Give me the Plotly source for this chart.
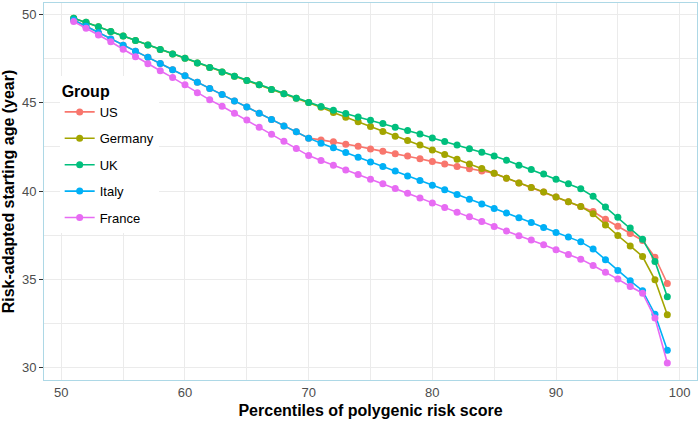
import plotly.graph_objects as go

percentiles = list(range(51, 100))

us = [49.70, 49.34, 48.98, 48.62, 48.26, 47.92, 47.58, 47.23, 46.87, 46.53,
      46.17, 45.81, 45.47, 45.11, 44.77, 44.41, 44.05, 43.69, 43.36, 43.00,
      42.90, 42.79, 42.66, 42.54, 42.39, 42.26, 42.11, 41.99, 41.83, 41.67,
      41.54, 41.39, 41.26, 41.13, 41.01, 40.73, 40.46, 40.20, 39.94, 39.67,
      39.39, 39.12, 38.84, 38.40, 38.01, 37.59, 37.20, 36.25, 34.76]

germany = [49.79, 49.57, 49.32, 49.04, 48.79, 48.53, 48.28, 48.02, 47.77, 47.53,
           47.26, 47.00, 46.75, 46.51, 46.26, 46.02, 45.76, 45.51, 45.26, 45.02,
           44.75, 44.45, 44.19, 43.93, 43.66, 43.37, 43.11, 42.86, 42.61, 42.33,
           42.07, 41.81, 41.54, 41.28, 41.01, 40.73, 40.46, 40.20, 39.94, 39.67,
           39.39, 39.12, 38.71, 38.08, 37.48, 36.89, 36.29, 34.97, 32.99]

uk = [49.79, 49.57, 49.32, 49.04, 48.79, 48.53, 48.28, 48.02, 47.77, 47.53,
      47.26, 47.00, 46.75, 46.51, 46.26, 46.02, 45.76, 45.51, 45.26, 45.02,
      44.79, 44.58, 44.39, 44.20, 44.02, 43.83, 43.62, 43.43, 43.23, 43.01,
      42.81, 42.61, 42.40, 42.20, 41.99, 41.74, 41.47, 41.22, 40.96, 40.67,
      40.41, 40.13, 39.70, 39.10, 38.51, 37.91, 37.27, 36.01, 34.01]

italy = [49.70, 49.34, 48.98, 48.62, 48.26, 47.92, 47.58, 47.23, 46.87, 46.53,
         46.17, 45.81, 45.47, 45.11, 44.77, 44.41, 44.05, 43.69, 43.36, 43.00,
         42.71, 42.45, 42.18, 41.92, 41.65, 41.39, 41.13, 40.86, 40.60, 40.33,
         40.07, 39.80, 39.54, 39.27, 39.01, 38.75, 38.48, 38.22, 37.93, 37.65,
         37.39, 37.12, 36.71, 36.10, 35.50, 34.91, 34.35, 33.02, 30.98]

france = [49.61, 49.23, 48.85, 48.46, 48.04, 47.62, 47.21, 46.82, 46.43, 46.02,
          45.57, 45.17, 44.81, 44.41, 44.03, 43.62, 43.22, 42.83, 42.41, 42.01,
          41.73, 41.47, 41.20, 40.94, 40.67, 40.41, 40.14, 39.88, 39.61, 39.33,
          39.07, 38.80, 38.54, 38.27, 37.99, 37.73, 37.46, 37.22, 36.95, 36.67,
          36.40, 36.14, 35.78, 35.40, 35.01, 34.59, 34.21, 32.80, 30.25]

groups = ["US", "Germany", "UK", "Italy", "France"]
series = [us, germany, uk, italy, france]
colors = ["#F8766D", "#A3A500", "#00BF7D", "#00B0F6", "#E76BF3"]

x_ticks = [50, 60, 70, 80, 90, 100]
y_ticks = [30, 35, 40, 45, 50]

FONT = "Liberation Sans, Arial, Helvetica, sans-serif"

fig = go.Figure()
for name, vals, col in zip(groups, series, colors):
    fig.add_trace(go.Scatter(
        x=percentiles, y=vals, name=name, mode="lines+markers",
        line=dict(color=col, width=1.6),
        marker=dict(color=col, size=7),
        legendgroup=name,
    ))

fig.update_layout(
    width=700, height=422,
    margin=dict(l=44, r=3, t=3, b=42),
    paper_bgcolor="white", plot_bgcolor="white",
    font=dict(family=FONT, size=13, color="#4d4d4d"),
    showlegend=True,
    legend=dict(
        title=dict(text="<b>Group</b>", font=dict(size=16, color="black", family=FONT)),
        font=dict(size=13, color="black", family=FONT),
        bgcolor="white",
        x=0.024, y=0.806, xanchor="left", yanchor="top",
        traceorder="grouped", tracegroupgap=6.5,
        itemwidth=30,
    ),
    xaxis=dict(
        range=[48.6, 101.4], tickvals=x_ticks, ticktext=[str(v) for v in x_ticks],
        showgrid=True, gridcolor="#ebebeb", gridwidth=1.2,
        minor=dict(dtick=5, tick0=0, showgrid=True, gridcolor="#ebebeb", gridwidth=0.6),
        showline=True, mirror=True, linecolor="#add8e6", linewidth=1,
        ticks="", zeroline=False,
        tickfont=dict(size=13, color="#4d4d4d"),
        title=dict(text="<b>Percentiles of polygenic risk score</b>",
                   font=dict(size=16, color="black", family=FONT), standoff=6),
    ),
    yaxis=dict(
        range=[29.29, 50.66], tickvals=y_ticks, ticktext=[str(v) for v in y_ticks],
        showgrid=True, gridcolor="#ebebeb", gridwidth=1.2,
        minor=dict(dtick=2.5, tick0=0, showgrid=True, gridcolor="#ebebeb", gridwidth=0.6),
        showline=True, mirror=True, linecolor="#add8e6", linewidth=1,
        ticks="outside", ticklen=4, tickcolor="#333333", tickwidth=1,
        zeroline=False,
        tickfont=dict(size=13, color="#4d4d4d"),
        title=dict(text="<b>Risk-adapted starting age (year)</b>",
                   font=dict(size=16, color="black", family=FONT), standoff=4),
    ),
)

fig.write_html("out.html", config={"displayModeBar": False},
               post_script="document.body.style.margin='0';")
